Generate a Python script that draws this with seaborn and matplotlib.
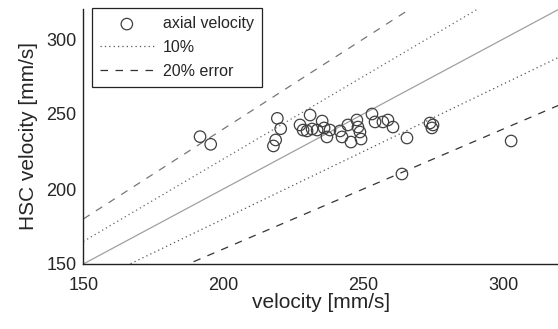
import numpy as np
import pandas as pd
import matplotlib
matplotlib.use("Agg")
import matplotlib.pyplot as plt
import seaborn as sns

# -----------------------------
# DATA
# -----------------------------
ref_velocity = [191.7, 195.5, 219.3, 220.5, 218.7, 217.9,
                227.4, 228.5, 231.0, 229.9, 231.7, 233.5, 235.3, 236.0,
                237.0, 238.1, 241.7, 242.4, 244.5, 245.6, 247.7, 248.1,
                248.8, 249.2, 253.1, 254.2, 257.0, 258.8, 260.6, 265.6,
                273.8, 274.9, 274.5, 263.8, 302.8]
hsc_velocity = [234.9, 229.8, 247.1, 240.2, 232.7, 228.7,
                242.7, 239.3, 249.3, 238.7, 240.0, 239.3, 245.3, 240.7,
                234.7, 239.3, 238.7, 234.7, 242.7, 231.3, 246.0, 241.3,
                238.0, 233.3, 250.0, 244.7, 244.7, 246.0, 241.3, 234.0,
                244.0, 242.7, 240.7, 210.0, 232.0]

axis_range = [150, 320]
ticks = [150, 200, 250, 300]
err_10 = 0.10
err_20 = 0.20

df = pd.DataFrame({"velocity": ref_velocity, "hsc": hsc_velocity})

sns.set_style("white")
plt.rcParams["font.family"] = ["Liberation Sans", "DejaVu Sans"]

fig = plt.figure(figsize=(5.58, 3.29), dpi=100)
ax = fig.add_axes([83.3 / 558, 65 / 329, 476 / 558, 255 / 329])

xs = np.array(axis_range, dtype=float)

# reference lines: 1:1, +-10 %, +-20 %
ax.plot(xs, xs, color="#a0a0a0", lw=0.9, zorder=1)
ax.plot(xs, xs * (1 + err_10), color="#666666", lw=0.9, ls=(0, (1, 2.5)), zorder=1)
ax.plot(xs, xs * (1 - err_10), color="#555555", lw=0.9, ls=(0, (1, 2.5)), zorder=1,
        label="10%")
ax.plot(xs, xs * (1 + err_20), color="#777777", lw=0.9, ls=(0, (6, 6)), zorder=1)
ax.plot(xs, xs * (1 - err_20), color="#333333", lw=0.9, ls=(0, (6, 6)), zorder=1,
        label="20% error")

sns.scatterplot(data=df, x="velocity", y="hsc", ax=ax, marker="o", s=68,
                facecolor="none", edgecolor="#404040", linewidth=0.9,
                label="axial velocity", zorder=3)

ax.set_xlim(axis_range)
ax.set_ylim(axis_range)
ax.set_xticks(ticks)
ax.set_yticks(ticks)
ax.tick_params(direction="in", length=3, width=0.8, labelsize=13,
               colors="#262626")
ax.tick_params(axis="x", pad=9)
ax.tick_params(axis="y", pad=5)
for side in ["top", "right"]:
    ax.spines[side].set_visible(False)
for side in ["left", "bottom"]:
    ax.spines[side].set_color("#222222")
    ax.spines[side].set_linewidth(1.0)

ax.set_xlabel("velocity [mm/s]", fontsize=15, color="#262626", labelpad=0)
ax.set_ylabel("HSC velocity [mm/s]", fontsize=15, color="#262626", labelpad=6)

handles, labels = ax.get_legend_handles_labels()
order = [labels.index(l) for l in ["axial velocity", "10%", "20% error"]]
leg = ax.legend([handles[i] for i in order], [labels[i] for i in order],
                loc="upper left", bbox_to_anchor=(91.7 / 558, 1 - 8.3 / 329),
                bbox_transform=fig.transFigure, borderaxespad=0,
                fontsize=11.5, handlelength=3.4, handletextpad=0.55,
                frameon=True, fancybox=False, framealpha=1,
                edgecolor="#222222", borderpad=0.5, labelspacing=0.55)
leg.get_frame().set_linewidth(0.9)

plt.savefig("out.png", dpi=100)
plt.close()
